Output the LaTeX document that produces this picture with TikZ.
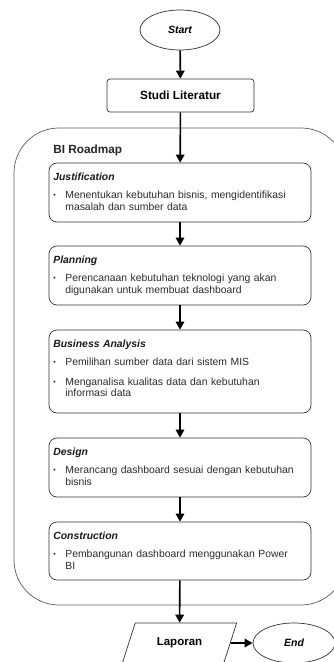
\documentclass[tikz,border=0pt]{standalone}
\usepackage{fontspec}
\setmainfont{Liberation Sans}
\usepackage{tikz}
\usetikzlibrary{shapes.geometric,arrows.meta}
\definecolor{linegray}{HTML}{333333}
\definecolor{txtgray}{HTML}{2A2A2A}
\newcommand{\bitem}[1]{\par\noindent\makebox[12pt][l]{\raisebox{0.6pt}{\scriptsize\textbullet}}\parbox[t]{240pt}{#1}}
\newcommand{\ptitle}[1]{\noindent{\color{black!90}\bfseries\itshape #1}\par\vspace{6pt}}

\begin{document}
\begin{tikzpicture}[x=1pt,y=-1pt,line width=0.7pt,
  phase/.style={draw=linegray,rounded corners=8pt,minimum width=262pt,inner sep=0pt},
  phasetext/.style={anchor=north west,inner sep=0pt,text width=255pt,text=txtgray,
    font=\fontsize{10.4}{11.6}\selectfont},
  flow/.style={-{Triangle[length=8pt,width=8.5pt]},line width=1.6pt}]
\useasboundingbox (0,0) rectangle (334,662);

\node [draw=linegray,ellipse,minimum width=80pt,minimum height=40pt,font=\fontsize{10.5}{12}\bfseries\itshape] (start) at (180,30) {Start};
\node [draw=linegray,rounded corners=3pt,minimum width=147pt,minimum height=33pt,font=\fontsize{11.8}{13}\bfseries] (studi) at (180.5,95.5) {Studi Literatur};

% BI Roadmap container
\node [draw=linegray!80,rounded corners=45pt,minimum width=332pt,minimum height=477pt] (roadmap) at (180,366.5) {};
\node [anchor=west,inner sep=0pt,font=\fontsize{11.8}{13}\bfseries,text=black!85] (rmlabel) at (53,150) {BI Roadmap};

\node [phase,minimum height=59pt] (just) at (180,192.5) {};
\node [phase,minimum height=59pt] (plan) at (180,275.5) {};
\node [phase,minimum height=83pt] (bus) at (180,371.5) {};
\node [phase,minimum height=59pt] (design) at (180,467.5) {};
\node [phase,minimum height=58pt] (constr) at (180,551) {};

\node [phasetext] (justtxt) at (53,173) {\ptitle{Justification}
  \bitem{Menentukan kebutuhan bisnis, mengidentifikasi\\masalah dan sumber data}};
\node [phasetext] (plantxt) at (53,256) {\ptitle{Planning}
  \bitem{Perencanaan kebutuhan teknologi yang akan\\digunakan untuk membuat dashboard}};
\node [phasetext] (bustxt) at (53,340) {\ptitle{Business Analysis}
  \bitem{Pemilihan sumber data dari sistem MIS}\par\vspace{8pt}
  \bitem{Menganalisa kualitas data dan kebutuhan\\informasi data}};
\node [phasetext] (designtxt) at (53,448) {\ptitle{Design}
  \bitem{Merancang dashboard sesuai dengan kebutuhan\\bisnis}};
\node [phasetext] (constrtxt) at (53,532) {\ptitle{Construction}
  \bitem{Pembangunan dashboard menggunakan Power\\BI}};

\node [draw=linegray,trapezium,trapezium left angle=66,trapezium right angle=114,trapezium stretches=true,
  minimum width=115pt,minimum height=40pt,font=\fontsize{11.5}{13}\bfseries] (lap) at (179.5,643) {Laporan};
\node [draw=linegray,ellipse,minimum width=82pt,minimum height=40pt,font=\fontsize{10.5}{12}\bfseries\itshape] (end) at (294,643) {End};

\draw [flow] (start) -- (studi);
\draw [flow] (studi) -- (just);
\draw [flow] (just) -- (plan);
\draw [flow] (plan) -- (bus);
\draw [flow] (bus) -- (design);
\draw [flow] (design) -- (constr);
\draw [flow] (constr) -- (lap);
\draw [flow] (lap) -- (end);
\end{tikzpicture}
\end{document}
